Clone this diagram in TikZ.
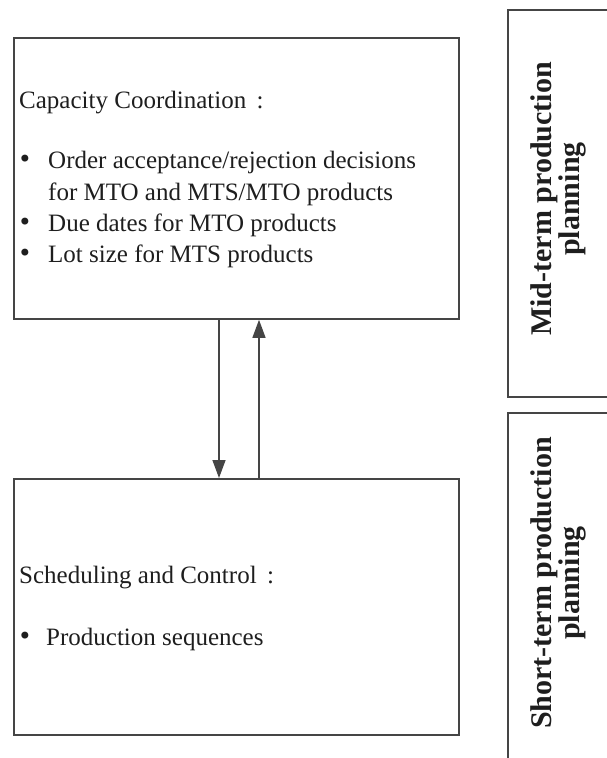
\documentclass[tikz,border=0pt]{standalone}
\usepackage{fontspec}
\setmainfont{Liberation Serif}
\newfontfamily\bulletfont{DejaVu Sans}
\usetikzlibrary{arrows.meta}
\definecolor{frame}{HTML}{454545}
\definecolor{ink}{HTML}{1e1e1e}
\begin{document}
\begin{tikzpicture}[x=1pt,y=-1pt,
  box/.style={draw=frame,line width=1.8pt,inner sep=0pt,anchor=north west},
  label/.style={anchor=base west,inner sep=0pt,text=ink,font=\fontsize{25}{30}\selectfont},
  dot/.style={anchor=center,inner sep=0pt,text=ink,font=\bulletfont\fontsize{24}{24}\selectfont},
  phase/.style={rotate=90,align=center,inner sep=0pt,text=ink,font=\fontsize{30}{28}\selectfont\bfseries},
  flow/.style={draw=frame,line width=1.4pt,-{Triangle[length=18pt,width=13pt]}}]
\useasboundingbox (0,0) rectangle (607,758);
\clip (0,0) rectangle (607,758);

% planning blocks
\node[box,minimum width=445pt,minimum height=281pt] (cap) at (13,37) {};
\node[box,minimum width=445pt,minimum height=256pt] (sched) at (13,478) {};

% horizon frames on the right (open beyond the edge)
\node[box,minimum width=140pt,minimum height=387pt] (mid) at (507,9) {};
\node[box,minimum width=140pt,minimum height=400pt] (short) at (507,412) {};
\node[phase] (midtxt) at (558,199) {Mid-term production\\planning};
\node[phase] (shorttxt) at (558,583) {Short-term production\\planning};

% capacity coordination text
\node[label] (capt) at (19,108) {Capacity Coordination\, :};
\node[dot] (b1) at (25,161) {•};
\node[label] (l1) at (48,168) {Order acceptance/rejection decisions};
\node[label] (l1b) at (48,200) {for MTO and MTS/MTO products};
\node[dot] (b2) at (25,224) {•};
\node[label] (l2) at (48,231) {Due dates for MTO products};
\node[dot] (b3) at (25,255) {•};
\node[label] (l3) at (48,262) {Lot size for MTS products};

% scheduling and control text
\node[label] (scht) at (19,583) {Scheduling and Control\, :};
\node[dot] (b4) at (25,638) {•};
\node[label] (l4) at (46,645) {Production sequences};

% information flow between the levels
\coordinate (down) at (219,0);
\coordinate (up) at (259,0);
\draw[flow] (cap.south -| down) -- (sched.north -| down);
\draw[flow] (sched.north -| up) -- (cap.south -| up);
\end{tikzpicture}
\end{document}
